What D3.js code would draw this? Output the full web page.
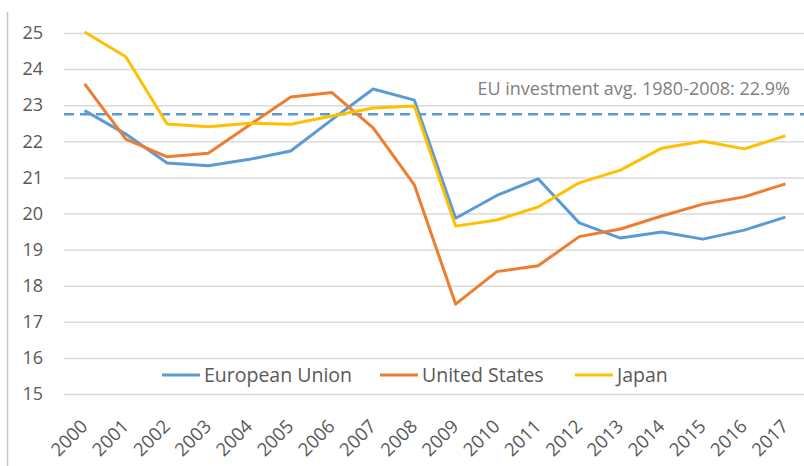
<!DOCTYPE html>
<html><head><meta charset="utf-8">
<script src="https://cdn.jsdelivr.net/npm/d3@7"></script>
<style>body{margin:0;background:#fff}svg{display:block;font-family:"Open Sans",sans-serif}</style>
</head><body>
<svg id="c" width="804" height="466"></svg>
<script>
const years = [2000,2001,2002,2003,2004,2005,2006,2007,2008,2009,2010,2011,2012,2013,2014,2015,2016,2017];
const euValues = [22.85,22.2,21.4,21.32,21.5,21.73,22.6,23.45,23.14,19.87,20.5,20.96,19.74,19.32,19.49,19.29,19.54,19.9];
const usValues = [23.59,22.06,21.57,21.67,22.45,23.23,23.35,22.37,20.79,17.49,18.39,18.55,19.36,19.57,19.93,20.26,20.46,20.82];
const jpValues = [25.03,24.34,22.48,22.4,22.5,22.47,22.7,22.92,22.98,19.65,19.82,20.18,20.85,21.2,21.81,22.0,21.79,22.15];
const seriesNames = ["European Union","United States","Japan"];
const seriesColors = ["#5B9BD5","#ED7D31","#FFC000"];
const yTicks = [15,16,17,18,19,20,21,22,23,24,25];
const avgValue = 22.75;
const avgLabel = "EU investment avg. 1980-2008: 22.9%";

const svg = d3.select("#c");
const x = d3.scalePoint().domain(years).range([64,806]).padding(0.5);
const y = d3.scaleLinear().domain([15,25]).range([394,33]);

// left border
svg.append("line").attr("x1",7.5).attr("x2",7.5).attr("y1",12).attr("y2",466).attr("stroke","#c8c8c8").attr("stroke-width",1.5);

// gridlines
const yAxis = d3.axisLeft(y).tickValues(yTicks).tickSize(-(804-64)).tickFormat(d3.format("d"));
const gy = svg.append("g").attr("transform","translate(64,0)").call(yAxis);
gy.select(".domain").remove();
gy.selectAll(".tick line").attr("stroke","#d9d9d9").attr("stroke-width",1.5);
gy.selectAll(".tick text").attr("x",-21).attr("fill","#595959").attr("font-size","18px").attr("font-family","Open Sans");

// x axis labels
const xAxis = d3.axisBottom(x).tickSize(0).tickFormat(d3.format("d"));
const gx = svg.append("g").attr("transform","translate(0,394)").call(xAxis);
gx.select(".domain").remove();
gx.selectAll(".tick text")
  .attr("y",0).attr("dy","0.35em")
  .attr("transform","translate(-1,29) rotate(-45)")
  .attr("text-anchor","end")
  .attr("fill","#595959").attr("font-size","18.5px").attr("font-family","Open Sans");

// average dashed line
svg.append("line").attr("x1",64).attr("x2",804).attr("y1",y(avgValue)).attr("y2",y(avgValue))
  .attr("stroke","#5B9BD5").attr("stroke-width",2.5).attr("stroke-dasharray","10,6");
svg.append("text").attr("x",790).attr("y",y(avgValue)-19).attr("text-anchor","end")
  .attr("fill","#7f7f7f").attr("font-size","18px").text(avgLabel);

// series
const allValues = [euValues, usValues, jpValues];
const line = d3.line().x((d,i)=>x(years[i])).y(d=>y(d));
allValues.forEach((vals,k)=>{
  svg.append("path").datum(vals).attr("d",line).attr("fill","none")
    .attr("stroke",seriesColors[k]).attr("stroke-width",3).attr("stroke-linejoin","round");
});

// legend
const legendX = [162,380,575];
const lg = svg.append("g");
seriesNames.forEach((n,k)=>{
  lg.append("line").attr("x1",legendX[k]).attr("x2",legendX[k]+38).attr("y1",375).attr("y2",375)
    .attr("stroke",seriesColors[k]).attr("stroke-width",3);
  lg.append("text").attr("x",legendX[k]+42).attr("y",375).attr("dy","0.35em")
    .attr("fill","#595959").attr("font-size","19.5px").text(n);
});
</script>
</body></html>
